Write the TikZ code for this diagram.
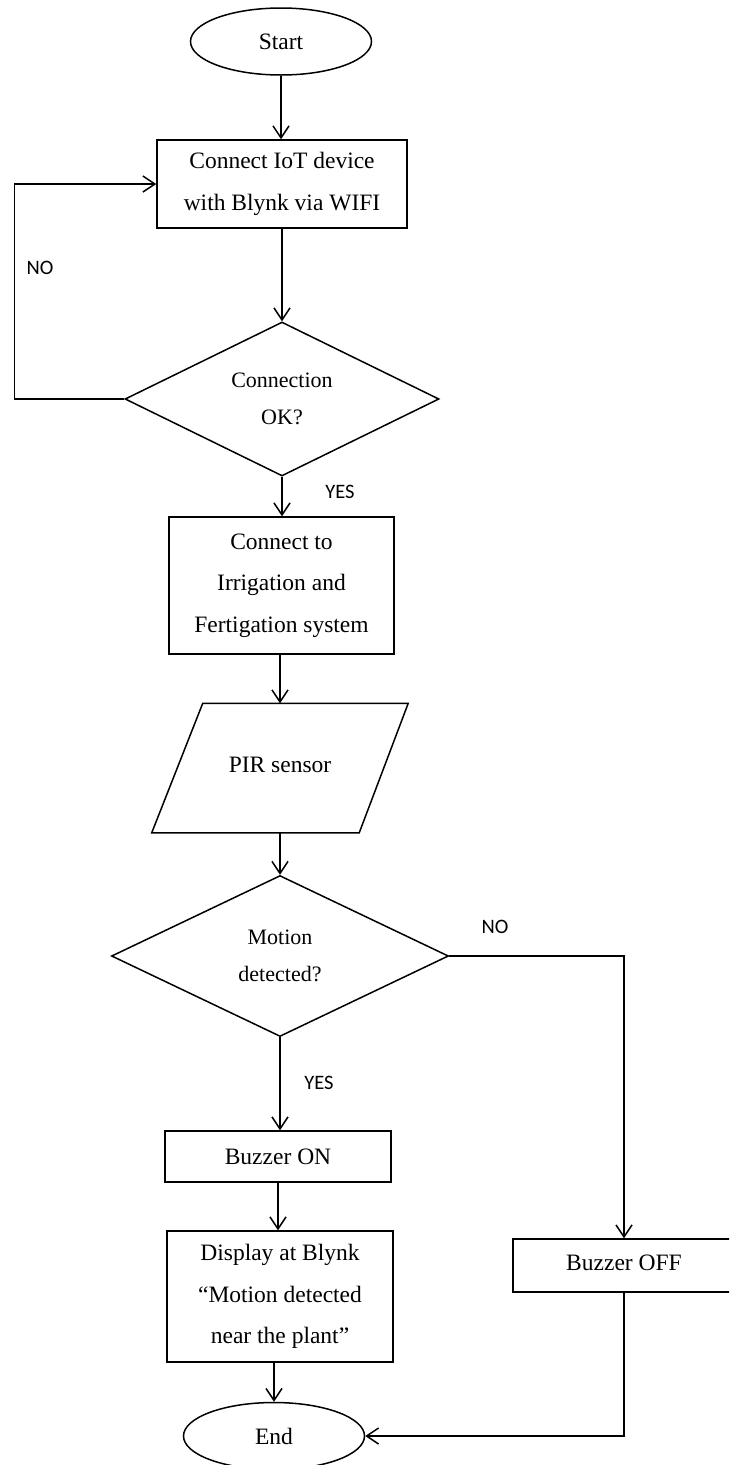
\documentclass[tikz,border=0pt]{standalone}
\usepackage{fontspec}
\setmainfont{Liberation Serif}
\newfontfamily\lblfam{Carlito}
\usetikzlibrary{shapes.geometric,arrows.meta}
\newcommand\boxtextfont{\fontsize{23.5}{41.7}\selectfont}
\newcommand\dmdtextfont{\fontsize{22}{37.5}\selectfont}
\newcommand\lbltextfont{\lblfam\fontsize{20.5}{24}\selectfont}
\tikzset{
  base/.style={draw, line width=1.5pt, inner sep=0pt, align=center, font=\boxtextfont},
  term/.style={base, ellipse, minimum width=181pt, minimum height=67pt},
  proc/.style={base, rectangle},
  dec/.style={base, diamond, aspect=2, font=\dmdtextfont},
  iobox/.style={base, draw=none, rectangle, minimum width=255pt, minimum height=128pt},
  lbl/.style={font=\lbltextfont, inner sep=0pt},
  arr/.style={line width=1.5pt, -{Straight Barb[length=12pt,width=16pt,line width=1.5pt]}},
  conn/.style={line width=1.5pt, line join=miter}
}
\begin{document}
\begin{tikzpicture}[x=1pt,y=-1pt]
\clip (0,0) rectangle (729,1465);
\useasboundingbox (0,0) rectangle (729,1465);

\node[term] (start) at (281,41.5) {Start};
\node[proc, minimum width=250pt, minimum height=88pt] (c1) at (282,184)
  {Connect IoT device\\with Blynk via WIFI};
\node[dec, minimum width=314pt, minimum height=154pt] (d1) at (282,399)
  {Connection\\OK?};
\node[proc, minimum width=225pt, minimum height=137pt] (c2) at (281.5,585.5)
  {Connect to\\Irrigation and\\Fertigation system};
\node[iobox] (pir) at (280,768) {\raisebox{6pt}{PIR sensor}};
\draw[conn] (pir.south west) -- ([xshift=-49pt]pir.south east) -- (pir.north east)
  -- ([xshift=51pt]pir.north west) -- cycle;
\node[dec, minimum width=337pt, minimum height=161pt] (d2) at (280,956)
  {Motion\\detected?};
\node[proc, minimum width=226pt, minimum height=51pt] (on) at (278,1156.5) {Buzzer ON};
\node[proc, minimum width=226pt, minimum height=131pt] (disp) at (280,1296.5)
  {Display at Blynk\\“Motion detected\\near the plant”};
\node[term] (end) at (274,1436) {End};
\node[proc, minimum width=222pt, minimum height=53pt] (off) at (624,1265.5)
  {\raisebox{5pt}{Buzzer OFF}};

\node[lbl] (no1) at (40,268) {NO};
\node[lbl] (yes1) at (340,492) {YES};
\node[lbl] (no2) at (495,927) {NO};
\node[lbl] (yes2) at (319,1083) {YES};

\draw[arr] (start.south) -- (start.south |- c1.north);
\draw[arr] (c1.south) -- (c1.south |- d1.north);
\draw[arr] (d1.west) -- ++(-110,0) |- (c1.west);
\draw[arr] (d1.south) -- (d1.south |- c2.north);
\draw[arr] (c2.south -| pir.north) -- (pir.north);
\draw[arr] (pir.south) -- (pir.south |- d2.north);
\draw[arr] (d2.south) -- (d2.south |- on.north);
\draw[arr] (d2.east) -| (off.north);
\draw[arr] (on.south) -- (on.south |- disp.north);
\draw[arr] (disp.south -| end.north) -- (end.north);
\draw[arr] (off.south) |- (end.east);
\end{tikzpicture}
\end{document}
